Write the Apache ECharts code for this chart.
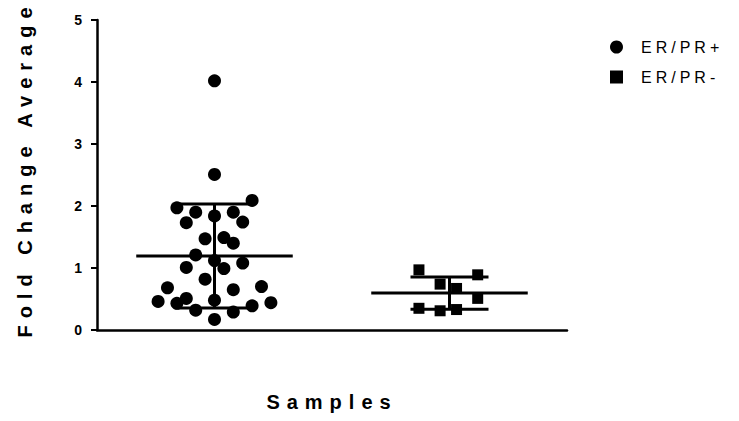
<!DOCTYPE html>
<html>
<head>
<meta charset="utf-8">
<script src="https://cdn.jsdelivr.net/npm/echarts@6/dist/echarts.min.js"></script>
<style>
  html, body { margin: 0; padding: 0; background: #fff; }
  #chart { width: 739px; height: 421px; }
  /* Prism-style spaced, heavy lettering */
  #chart text[style*="20px"] { letter-spacing: 7px; font-weight: bold !important; }
  #chart text[style*="16px"] { letter-spacing: 4px; }
  #chart text[style*="14px"] { font-weight: bold !important; }
</style>
</head>
<body>
<div id="chart"></div>
<script>
const categories = ['ER/PR+', 'ER/PR-']
const yTicks = [0, 1, 2, 3, 4, 5]

// ER/PR+ : x position (group 1 centred at 0.5, spread as in the dot plot) and fold change
const plusX = [0.50, 0.50, 0.66, 0.34, 0.42, 0.50, 0.58, 0.38, 0.62, 0.46,
  0.54, 0.58, 0.42, 0.50, 0.38, 0.54, 0.62, 0.46, 0.30, 0.58,
  0.70, 0.26, 0.34, 0.38, 0.50, 0.66, 0.74, 0.42, 0.58, 0.50]
const plusY = [4.02, 2.51, 2.09, 1.97, 1.90, 1.84, 1.90, 1.73, 1.74, 1.47,
  1.49, 1.40, 1.21, 1.12, 1.01, 0.99, 1.08, 0.82, 0.68, 0.65,
  0.70, 0.46, 0.43, 0.51, 0.48, 0.39, 0.44, 0.32, 0.29, 0.17]

// ER/PR- : group 2 centred at 1.5
const minusX = [1.37, 1.62, 1.46, 1.53, 1.62, 1.37, 1.46, 1.53]
const minusY = [0.97, 0.89, 0.74, 0.67, 0.51, 0.35, 0.31, 0.33]

const meanSd = (arr) => {
  const m = arr.reduce((a, b) => a + b, 0) / arr.length
  const v = arr.reduce((a, b) => a + (b - m) * (b - m), 0) / (arr.length - 1)
  return [m, Math.sqrt(v)]
}

const zip = (xs, ys) => xs.map((x, i) => [x, ys[i]])

const plusStats = meanSd(plusY)
const minusStats = meanSd(minusY)
const summary = [
  [0.5, plusStats[0], plusStats[1]],
  [1.5, minusStats[0], minusStats[1]]
]

const font = 'Liberation Sans'

let myChart = echarts.init(document.getElementById('chart'), null, { renderer: 'svg' })

let option = {
  animation: false,
  backgroundColor: '#fff',
  grid: {
    left: 97,
    right: 172,
    top: 20,
    bottom: 91
  },
  legend: {
    orient: 'vertical',
    left: 605,
    top: 34,
    itemWidth: 13,
    itemHeight: 13,
    itemGap: 14,
    data: [
      { name: 'ER/PR+', icon: 'circle' },
      { name: 'ER/PR-', icon: 'rect' }
    ],
    textStyle: {
      color: '#000',
      fontSize: 16,
      fontFamily: font,
      padding: [0, 0, 0, 13]
    }
  },
  xAxis: [
    {
      type: 'category',
      data: categories,
      boundaryGap: true,
      name: 'Samples',
      nameLocation: 'middle',
      nameGap: 62,
      nameTextStyle: {
        color: '#000',
        fontSize: 20,
        fontWeight: 'bold',
        fontFamily: font
      },
      axisLine: { lineStyle: { color: '#000', width: 2.5 } },
      axisTick: { alignWithLabel: true, length: 6, lineStyle: { color: '#000', width: 2 } },
      axisLabel: { show: false },
      splitLine: { show: false }
    },
    {
      type: 'value',
      min: 0,
      max: 2,
      show: false
    }
  ],
  yAxis: {
    type: 'value',
    min: yTicks[0],
    max: yTicks[yTicks.length - 1],
    interval: 1,
    name: 'Fold Change Average',
    nameLocation: 'middle',
    nameGap: 62,
    nameTextStyle: {
      color: '#000',
      fontSize: 20,
      fontWeight: 'bold',
      fontFamily: font,
      padding: [0, 0, 0, 12]
    },
    axisLine: { show: true, lineStyle: { color: '#000', width: 2.5 } },
    axisTick: { show: true, length: 6, lineStyle: { color: '#000', width: 2 } },
    axisLabel: {
      color: '#000',
      fontSize: 14,
      fontWeight: 'bold',
      fontFamily: font,
      margin: 15
    },
    splitLine: { show: false }
  },
  series: [
    {
      name: 'ER/PR+',
      type: 'scatter',
      xAxisIndex: 1,
      symbol: 'circle',
      symbolSize: 13,
      itemStyle: { color: '#000', opacity: 1 },
      data: zip(plusX, plusY)
    },
    {
      name: 'ER/PR-',
      type: 'scatter',
      xAxisIndex: 1,
      symbol: 'rect',
      symbolSize: 11,
      itemStyle: { color: '#000', opacity: 1 },
      data: zip(minusX, minusY)
    },
    {
      // mean line with SD whiskers
      type: 'custom',
      xAxisIndex: 1,
      silent: true,
      z: 5,
      data: summary,
      renderItem: function (params, api) {
        const cx = api.value(0)
        const m = api.value(1)
        const s = api.value(2)
        const style = { stroke: '#000', lineWidth: 3 }
        const seg = (a, b) => ({
          type: 'line',
          shape: { x1: a[0], y1: a[1], x2: b[0], y2: b[1] },
          style: style
        })
        const mL = api.coord([cx - 0.333, m])
        const mR = api.coord([cx + 0.333, m])
        const top = api.coord([cx, m + s])
        const bot = api.coord([cx, m - s])
        const tL = api.coord([cx - 0.166, m + s])
        const tR = api.coord([cx + 0.166, m + s])
        const bL = api.coord([cx - 0.166, m - s])
        const bR = api.coord([cx + 0.166, m - s])
        return {
          type: 'group',
          children: [seg(mL, mR), seg(top, bot), seg(tL, tR), seg(bL, bR)]
        }
      }
    }
  ]
}

myChart.setOption(option)
</script>
</body>
</html>
